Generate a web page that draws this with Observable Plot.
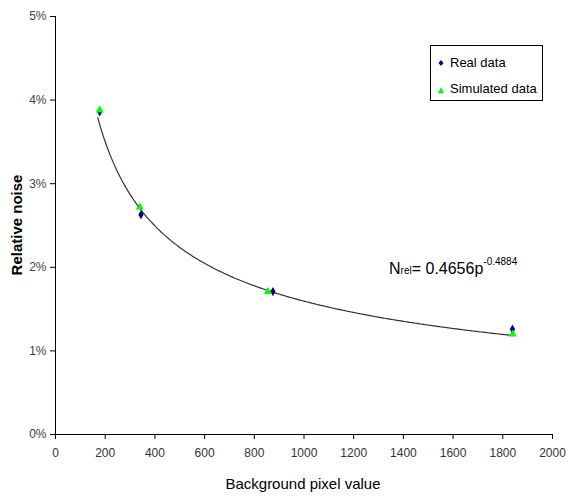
<!DOCTYPE html>
<html>
<head>
<meta charset="utf-8">
<script src="https://cdn.jsdelivr.net/npm/d3@7"></script>
<script src="https://cdn.jsdelivr.net/npm/@observablehq/plot@0.6"></script>
<style>
  body { margin: 0; background: #fff; }
  #wrap { position: relative; width: 583px; height: 496px; font-family: "Liberation Sans Narrow", "Liberation Sans", Arial, sans-serif; }
  #legend { position: absolute; left: 430px; top: 45px; width: 113px; height: 56px; border: 1px solid #000; box-sizing: border-box; background: #fff; font-size: 13px; color: #000; }
  #legend .item { position: absolute; left: 6px; display: flex; align-items: center; }
  #legend svg { margin-right: 5px; }
  #eq { position: absolute; left: 389px; top: 256px; font-size: 16px; color: #000; white-space: nowrap; }
  #eq sub { font-size: 10px; vertical-align: 0px; }
  #eq sup { font-size: 10px; vertical-align: 9px; }
</style>
</head>
<body>
<div id="wrap"></div>
<script>
// Data
const realX = [178, 344, 875, 1839];
const realY = [0.0386, 0.0263, 0.0171, 0.0126];
const simX = [178, 339, 855, 1840];
const simY = [0.0388, 0.0272, 0.0171, 0.0120];
// Power-law trendline shown on the chart: N = a * p^b
const fitA = 0.4656;
const fitB = -0.4884;
const fitRange = [170, 1840];
const xTicks = [0, 200, 400, 600, 800, 1000, 1200, 1400, 1600, 1800, 2000];
const yTicks = [0, 0.01, 0.02, 0.03, 0.04, 0.05];

const real = realX.map((x, i) => ({x, y: realY[i]}));
const sim = simX.map((x, i) => ({x, y: simY[i]}));
const curve = d3.range(fitRange[0], fitRange[1] + 1, 10).map(p => ({x: p, y: fitA * Math.pow(p, fitB)}));

const chart = Plot.plot({
  width: 583,
  height: 496,
  marginLeft: 55,
  marginRight: 31,
  marginTop: 16,
  marginBottom: 62,
  style: {fontFamily: "'Liberation Sans Narrow', 'Liberation Sans', Arial, sans-serif", fontSize: "12px", color: "#000", background: "#fff"},
  x: {domain: [0, 2000], ticks: xTicks},
  y: {domain: [0, 0.05], ticks: yTicks},
  marks: [
    Plot.axisX({ticks: xTicks, tickSize: 5, tickPadding: 9, tickFormat: d => String(d), fill: "#333", fontSize: 12, label: null}),
    Plot.axisY({ticks: yTicks, tickSize: 5, tickPadding: 4, tickFormat: d3.format(".0%"), fill: "#444", fontSize: 12, label: null}),
    Plot.ruleX([0], {stroke: "#000"}),
    Plot.ruleY([0], {stroke: "#000"}),
    Plot.line(curve, {x: "x", y: "y", stroke: "#333", strokeWidth: 1.2, curve: "monotone-x"}),
    Plot.dot(real, {x: "x", y: "y", symbol: "diamond", r: 2.8, fill: "#000080", stroke: null}),
    Plot.dot(sim, {x: "x", y: "y", symbol: "triangle", r: 3, fill: "#00ff00", stroke: null})
  ]
});

const svg = d3.select(chart);
svg.append("text")
  .attr("x", 303).attr("y", 489)
  .attr("text-anchor", "middle")
  .style("font-size", "15px").style("fill", "#000")
  .style("font-family", "'Liberation Sans Narrow', 'Liberation Sans', Arial, sans-serif")
  .text("Background pixel value");
svg.append("text")
  .attr("transform", "translate(22,225) rotate(-90)")
  .attr("text-anchor", "middle")
  .style("font-size", "15px").style("font-weight", "bold").style("fill", "#000")
  .style("font-family", "'Liberation Sans', Arial, sans-serif")
  .text("Relative noise");

const wrap = document.getElementById("wrap");
wrap.appendChild(chart);

const legend = document.createElement("div");
legend.id = "legend";
legend.innerHTML = `
  <div class="item" style="top:9px"><svg width="8" height="10"><path d="M4,2 L6.5,5 L4,8 L1.5,5 Z" fill="#000080"/></svg>Real data</div>
  <div class="item" style="top:35px"><svg width="8" height="10"><path d="M4,3 L7,9 L1,9 Z" fill="#00ff00"/></svg>Simulated data</div>`;
wrap.appendChild(legend);

const eq = document.createElement("div");
eq.id = "eq";
eq.innerHTML = `N<sub>rel</sub>= ${fitA}p<sup>${fitB}</sup>`;
wrap.appendChild(eq);
</script>
</body>
</html>
